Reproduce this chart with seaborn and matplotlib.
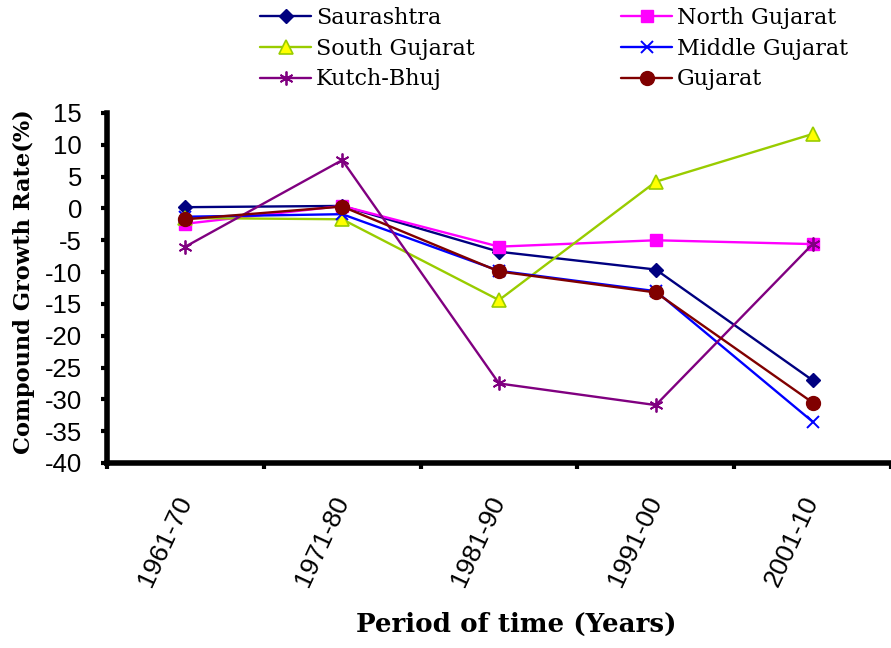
import numpy as np
import matplotlib
matplotlib.use("Agg")
import matplotlib.pyplot as plt
import seaborn as sns
from matplotlib.lines import Line2D

# ---- data ----
periods = ["1961-70", "1971-80", "1981-90", "1991-00", "2001-10"]
saurashtra = [0.2, 0.4, -6.8, -9.6, -27.0]
north_gujarat = [-2.4, 0.4, -6.0, -5.0, -5.6]
south_gujarat = [-1.5, -1.7, -14.4, 4.2, 11.7]
middle_gujarat = [-1.3, -0.9, -9.8, -13.0, -33.5]
kutch_bhuj = [-6.0, 7.6, -27.5, -30.9, -5.6]
gujarat = [-1.7, 0.3, -9.9, -13.2, -30.5]
series_names = ["Saurashtra", "North Gujarat", "South Gujarat",
                "Middle Gujarat", "Kutch-Bhuj", "Gujarat"]
series_values = [saurashtra, north_gujarat, south_gujarat,
                 middle_gujarat, kutch_bhuj, gujarat]
y_ticks = list(range(-40, 16, 5))

# ---- styles ----
styles = {
    "Saurashtra": dict(color="#000080", marker="D", markersize=7,
                       markerfacecolor="#000080", markeredgecolor="#000080", markeredgewidth=1),
    "North Gujarat": dict(color="#FF00FF", marker="s", markersize=9,
                          markerfacecolor="#FF00FF", markeredgecolor="#FF00FF", markeredgewidth=1),
    "South Gujarat": dict(color="#99CC00", marker="^", markersize=10,
                          markerfacecolor="#FFFF00", markeredgecolor="#99CC00", markeredgewidth=1.2),
    "Middle Gujarat": dict(color="#0000FF", marker="x", markersize=9,
                           markerfacecolor="#0000FF", markeredgecolor="#0000FF", markeredgewidth=1.4),
    "Kutch-Bhuj": dict(color="#800080", marker=(6, 2, 0), markersize=10,
                       markerfacecolor="#800080", markeredgecolor="#800080", markeredgewidth=1.3),
    "Gujarat": dict(color="#800000", marker="o", markersize=10,
                    markerfacecolor="#800000", markeredgecolor="#800000", markeredgewidth=1),
}

sns.set_theme(style="ticks")
plt.rcParams["font.family"] = ["DejaVu Serif"]
plt.rcParams["text.color"] = "black"
plt.rcParams["axes.labelcolor"] = "black"
plt.rcParams["xtick.color"] = "black"
plt.rcParams["ytick.color"] = "black"
plt.rcParams["xtick.labelcolor"] = "black"
plt.rcParams["ytick.labelcolor"] = "black"

W, H = 891, 648
fig = plt.figure(figsize=(W / 100, H / 100), dpi=100)
ax = fig.add_axes([107 / W, 185 / H, 784 / W, 350 / H])

x_pos = np.arange(len(periods))
handles = []
for name, vals in zip(series_names, series_values):
    st = styles[name]
    sns.lineplot(x=x_pos, y=vals, ax=ax, linewidth=1.7, legend=False, **st)
    handles.append(Line2D([], [], linewidth=1.7, label=name, **st))

ax.set_xlim(-0.5, 4.5)
ax.set_ylim(-40, 15)

# spines
for s in ["top", "right"]:
    ax.spines[s].set_visible(False)
for s in ["left", "bottom"]:
    ax.spines[s].set_linewidth(4)
    ax.spines[s].set_color("black")

# y ticks
ax.set_yticks(y_ticks)
ax.set_yticklabels([str(v) for v in y_ticks], fontfamily="Liberation Sans", fontsize=18.5)
ax.tick_params(axis="y", direction="out", length=4, width=3, pad=14, color="black")

# x ticks: labels at centres, tick marks at boundaries
ax.set_xticks(x_pos)
ax.set_xticklabels(periods, fontfamily="Liberation Sans", fontsize=19,
                   rotation=65, ha="right", va="center", rotation_mode="anchor")
ax.set_xticks(np.arange(-0.5, len(periods), 1.0), minor=True)
ax.tick_params(axis="x", which="major", length=0, pad=25)
ax.tick_params(axis="x", which="minor", direction="out", length=4, width=3, color="black")

ax.set_ylabel("Compound Growth Rate(%)", fontfamily="DejaVu Serif", fontweight="bold",
              fontsize=16.2, va="center")
ax.yaxis.set_label_coords((24 - 107) / 784, (463 - 282) / 350)
ax.set_xlabel("Period of time (Years)", fontfamily="DejaVu Serif", fontweight="bold",
              fontsize=18.8, va="center")
ax.xaxis.set_label_coords((516 - 107) / 784, (463 - 624) / 350)

leg_kw = dict(loc="upper left", frameon=False, fontsize=16, handlelength=2.3,
              handletextpad=0.22, labelspacing=0.39, borderpad=0, borderaxespad=0)
leg1 = fig.legend(handles=[handles[0], handles[2], handles[4]],
                  bbox_to_anchor=(260 / W, 1 - 7 / H), **leg_kw)
leg2 = fig.legend(handles=[handles[1], handles[3], handles[5]],
                  bbox_to_anchor=(621 / W, 1 - 7 / H), **leg_kw)

fig.savefig("out.png", dpi=100, facecolor="white")
